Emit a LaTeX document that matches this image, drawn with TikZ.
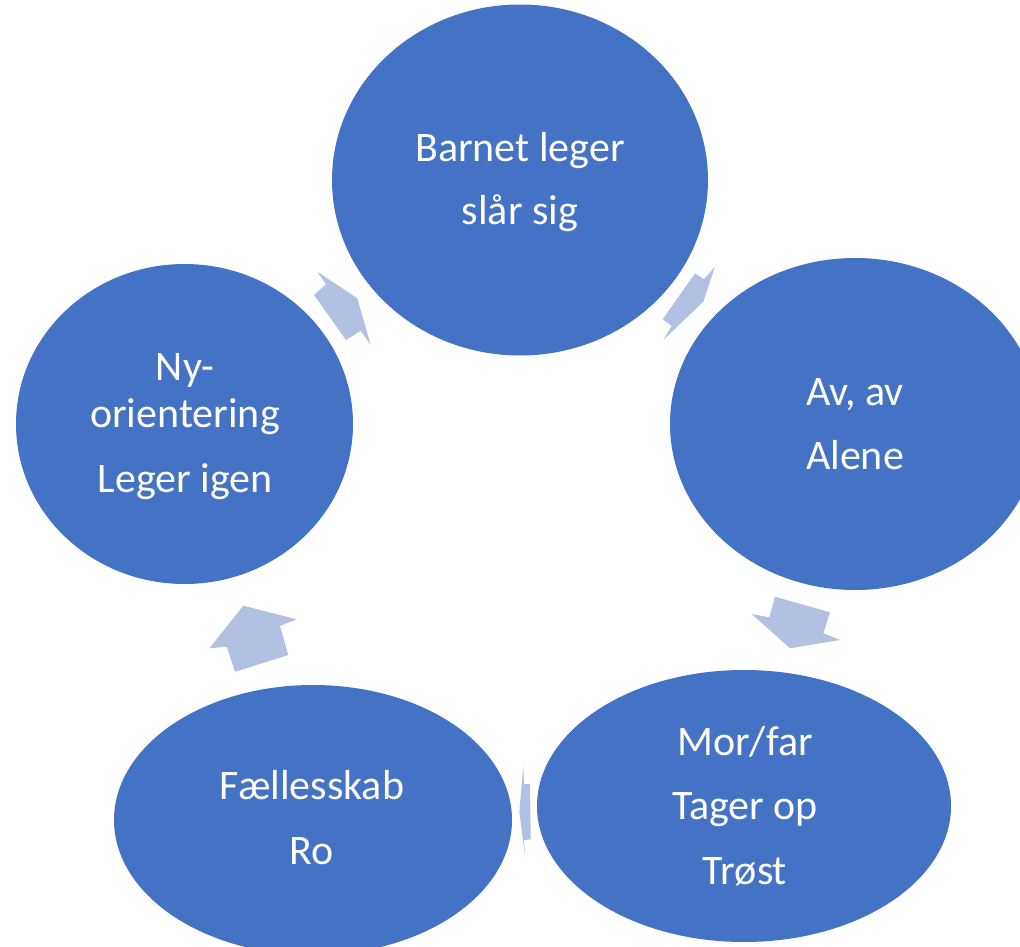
\documentclass[tikz,border=0pt]{standalone}
\usepackage{fontspec}
\setmainfont{Carlito}
\usetikzlibrary{shapes.geometric}
\definecolor{cblue}{RGB}{68,114,196}
\definecolor{carrow}{RGB}{178,192,225}
\begin{document}
\begin{tikzpicture}[x=1pt,y=-1pt,
  blob/.style={ellipse,fill=cblue,draw=none,inner sep=0pt},
  lbl/.style={text=white,anchor=base,inner sep=0pt,font=\fontsize{42}{50}\selectfont},
  arr/.style={fill=carrow,draw=none}]
\useasboundingbox (0,0) rectangle (1020,946);
\clip (0,0) rectangle (1020,946);
\node[blob,minimum width=376pt,minimum height=351pt] (top) at (520,180) {};
\node[blob,minimum width=370pt,minimum height=332pt] (right) at (855,424) {};
\node[blob,minimum width=414pt,minimum height=272pt] (br) at (744,806) {};
\node[blob,minimum width=398pt,minimum height=270pt] (bl) at (313,820) {};
\node[blob,minimum width=337pt,minimum height=320pt] (left) at (184.5,424) {};
% texts
\node[lbl] (t1) at (520,161.5) {Barnet leger};
\node[lbl] (t2) at (520,224.5) {slår sig};
\node[lbl] (r1) at (855,405) {Av, av};
\node[lbl] (r2) at (855,469) {Alene};
\node[lbl] (b1) at (745,755) {Mor/far};
\node[lbl] (b2) at (745,819) {Tager op};
\node[lbl] (b3) at (745,884) {Trøst};
\node[lbl] (f1) at (312,799) {Fællesskab};
\node[lbl] (f2) at (312,864) {Ro};
\node[lbl] (l1) at (185,380) {Ny-};
\node[lbl] (l2) at (185,427) {orientering};
\node[lbl] (l3) at (185,492) {Leger igen};
% arrows
\fill[arr] (317.3,271.7) -- (357.3,298.3) -- (370.7,345) -- (360.7,330.7) -- (346,340) -- (314,295) -- (326,284.3) -- cycle;
\fill[arr] (715,266.7) -- (704,279.3) -- (695,273.3) -- (662.7,319.3) -- (671.7,326) -- (663.3,340) -- (703.3,301.7) -- cycle;
\fill[arr] (775,596.7) -- (830,612.3) -- (823.3,633.3) -- (840,640) -- (790,648.3) -- (751.7,614) -- (769.3,617.3) -- cycle;
\fill[arr] (523.3,766) -- (524,784) -- (530,784) -- (530.7,839.3) -- (524,840) -- (525,856) -- (519.3,811.7) -- cycle;
\fill[arr] (243.3,605.7) -- (296.7,619.3) -- (280,626) -- (288.3,655) -- (235,671.7) -- (226.7,646.7) -- (209.3,648.3) -- cycle;
\end{tikzpicture}
\end{document}
